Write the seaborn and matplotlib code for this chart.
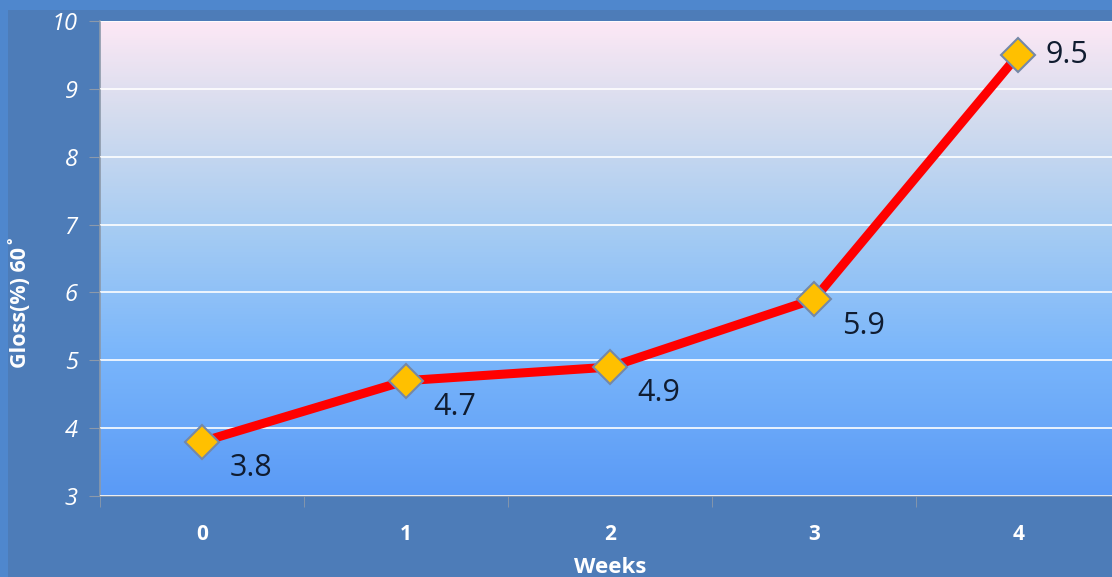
import numpy as np
import matplotlib
matplotlib.use('Agg')
import matplotlib.pyplot as plt
from matplotlib.colors import LinearSegmentedColormap
from matplotlib.patches import Rectangle
import seaborn as sns

# 数据
weeks = [0, 1, 2, 3, 4]
gloss = [3.8, 4.7, 4.9, 5.9, 9.5]
point_labels = ['3.8', '4.7', '4.9', '5.9', '9.5']
y_ticks = [3, 4, 5, 6, 7, 8, 9, 10]

sns.set_style('white')
plt.rcParams['font.family'] = ['Open Sans', 'DejaVu Sans']

W, H = 1112, 577
fig = plt.figure(figsize=(W / 100, H / 100), dpi=100)
fig.patch.set_facecolor('#4f87cd')
# 内层深蓝底板
fig.patches.append(Rectangle((8 / W, 0), 1, 1 - 10 / H, transform=fig.transFigure,
                             facecolor='#4d7cb8', edgecolor='none', zorder=-5))

ax = fig.add_axes([100 / W, (H - 496) / H, (W - 100) / W, (496 - 21) / H])

# 渐变背景
cmap = LinearSegmentedColormap.from_list('bg', [
    (0.0, '#5a9af6'), (0.3, '#7ab6fb'), (0.55, '#a4cbf3'),
    (0.8, '#d4dcee'), (1.0, '#fde8f5')])
grad = np.linspace(0, 1, 256).reshape(-1, 1)
ax.imshow(grad, cmap=cmap, origin='lower', aspect='auto',
          extent=[0, 1, 0, 1], transform=ax.transAxes, zorder=-1)

sns.lineplot(x=weeks, y=gloss, ax=ax, color='#ff0000', linewidth=6.5,
             marker='D', markersize=17, markerfacecolor='#ffc000',
             markeredgecolor='#7488a8', markeredgewidth=1.5, zorder=3)

for i, (x, y, t) in enumerate(zip(weeks, gloss, point_labels)):
    if i < 4:
        ax.annotate(t, (x, y), xytext=(20, -19), textcoords='offset points',
                    ha='left', va='center', fontsize=22, color='#101c30', zorder=4)
    else:
        ax.annotate(t, (x, y), xytext=(20, 0), textcoords='offset points',
                    ha='left', va='center', fontsize=22, color='#101c30', zorder=4)

ax.set_xlim(-0.5, 4.46)
ax.set_ylim(3, 10)
ax.set_yticks(y_ticks)
ax.yaxis.grid(True, color='white', linewidth=1.2)
ax.set_axisbelow(False)
ax.set_xticks(weeks)
ax.set_xticks([-0.5, 0.5, 1.5, 2.5, 3.5], minor=True)

for s in ['top', 'right']:
    ax.spines[s].set_visible(False)
for s in ['left', 'bottom']:
    ax.spines[s].set_color('#8c99aa')
    ax.spines[s].set_linewidth(1.2)

ax.tick_params(axis='y', which='major', left=True, length=8, color='#8c99aa',
               labelcolor='white', labelsize=17, pad=8)
ax.tick_params(axis='x', which='major', bottom=False, labelcolor='white',
               labelsize=15, pad=17)
ax.tick_params(axis='x', which='minor', bottom=True, length=8, color='#8c99aa')
for lab in ax.get_yticklabels():
    lab.set_fontstyle('italic')
for lab in ax.get_xticklabels():
    lab.set_fontweight('bold')

ax.set_xlabel('Weeks', color='white', fontsize=16, fontweight='bold')
ax.set_ylabel('Gloss(%) 60˚', color='white', fontsize=15.5, fontweight='bold')
ax.xaxis.set_label_coords(0.504, -0.128)
ax.yaxis.set_label_coords(-0.068, 0.41)

fig.savefig('out.png', dpi=100, facecolor=fig.get_facecolor())
